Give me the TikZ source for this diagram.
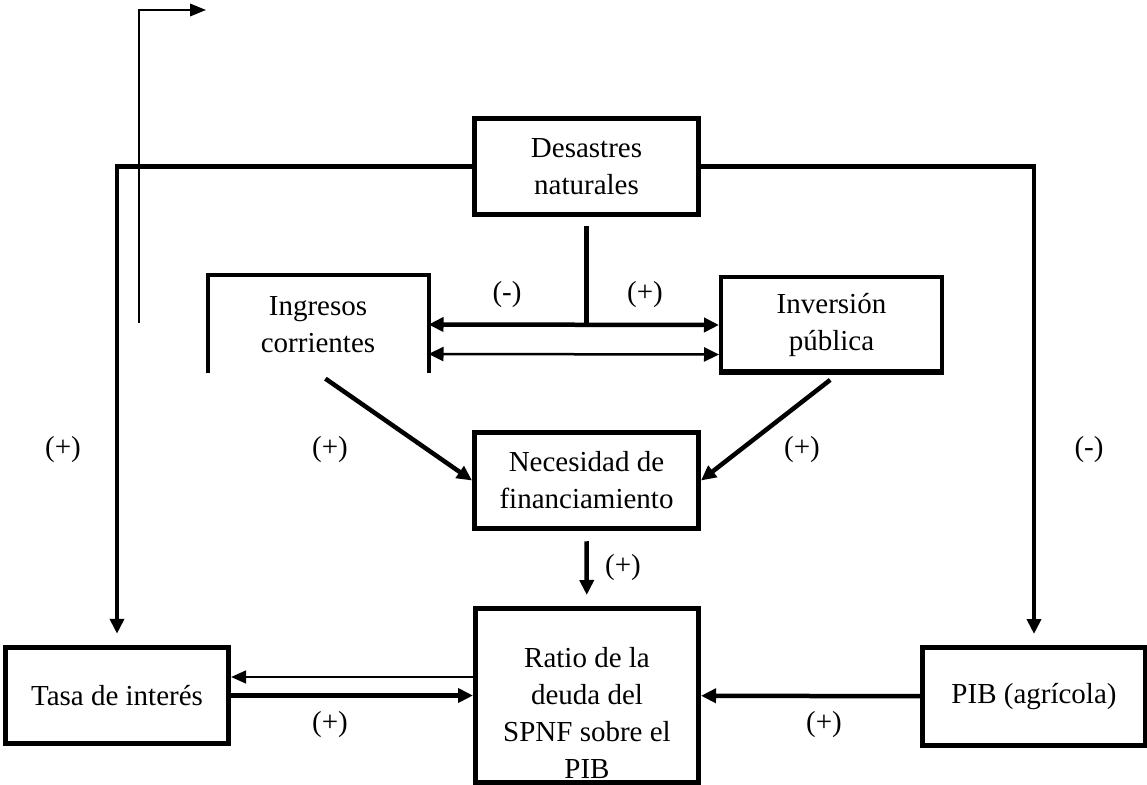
\documentclass[tikz,border=0pt]{standalone}
\usepackage{fontspec}
\setmainfont{Liberation Serif}
\usetikzlibrary{arrows.meta}
\begin{document}
\begin{tikzpicture}[x=0.4pt, y=-0.4pt, font=\fontsize{11.6}{14.8}\selectfont,
	box/.style = {draw, line width=1.6pt, align=center, minimum width=90pt, minimum height=39pt},
	arr/.style = {line width=1.8pt, -{Triangle[length=6pt,width=5.6pt]}},
	dblarr/.style = {{Triangle[length=6pt,width=5.6pt]}-{Triangle[length=6pt,width=5.6pt]}},
	thinarr/.style = {line width=1pt, -{Triangle[length=6pt,width=5pt]}}]
	\useasboundingbox (0,0) rectangle (1147,785);
	\node[box] (des) at (586.5,166.5) {Desastres\\naturales};
	\node[align=center, minimum width=88pt, minimum height=38.8pt] (ing) at (318,324.5) {Ingresos\\corrientes};
	\node[box, minimum width=88.4pt, minimum height=38.4pt] (inv) at (831.5,325) {Inversión\\pública};
	\node[box] (nec) at (586.5,480.5) {Necesidad de\\financiamiento};
	\node[box, minimum width=89.6pt, minimum height=70pt] (rat) at (587,695.5) {};
	\node[align=center] (rattext) at (587,713) {Ratio de la\\deuda del\\SPNF sobre el\\PIB};
	\node[box, minimum width=89.6pt] (tas) at (117,695.5) {Tasa de interés};
	\node[box, minimum width=89.6pt, minimum height=39.6pt] (pib) at (1034,696.5) {PIB (agrícola)};
	% double frames
	\foreach \n in {des,nec,rat,tas,pib}
		\draw[line width=0.6pt] ([shift={(4.5,4.5)}]\n.north west) rectangle ([shift={(-4.5,-4.5)}]\n.south east);
	\draw[line width=0.6pt] ([yshift=1.9pt]inv.south west) -- ([yshift=1.9pt]inv.south east);
	\draw[line width=1.6pt] (ing.south west) |- (ing.north east) -- (ing.south east);
	% arrows
	\coordinate (up0) at (139,323);
	\coordinate (up1) at (206,10);
	\draw[line width=0.8pt, -{Triangle[length=6.4pt,width=5pt]}] (up0) |- (up1);
	\draw[arr, shorten >=4.4pt] (des.west) -| (tas.north);
	\draw[arr, shorten >=4.4pt] (des.east) -| (pib.north);
	\draw[line width=1.8pt] ([yshift=-3.6pt]des.south) -- (des.south |- ing.east);
	\draw[arr, dblarr] (ing.east) -- (inv.west);
	\draw[thinarr, dblarr] ([yshift=-11.8pt]ing.east) -- ([yshift=-11.8pt]inv.west);
	\draw[arr, shorten <=3.6pt] (ing.south) -- (nec.west);
	\draw[arr, shorten <=3.2pt] ([xshift=2pt]inv.south) -- (nec.east);
	\draw[arr, shorten <=4pt, shorten >=4.4pt] (nec) -- (rat);
	\draw[thinarr, line width=1.1pt] ([yshift=7.4pt]rat.west) -- ([yshift=7.4pt]tas.east);
	\draw[arr] (tas) -- (rat);
	\draw[arr] (pib) -- (rat);
	% signs
	\node (s1) at (63,450) {(+)};
	\node (s2) at (330,450) {(+)};
	\node (s3) at (802,450) {(+)};
	\node (s4) at (1089,450) {(-)};
	\node (s5) at (507,295) {(-)};
	\node (s6) at (645,295) {(+)};
	\node (s7) at (623,568) {(+)};
	\node (s8) at (330,725) {(+)};
	\node (s9) at (824,725) {(+)};
\end{tikzpicture}
\end{document}
